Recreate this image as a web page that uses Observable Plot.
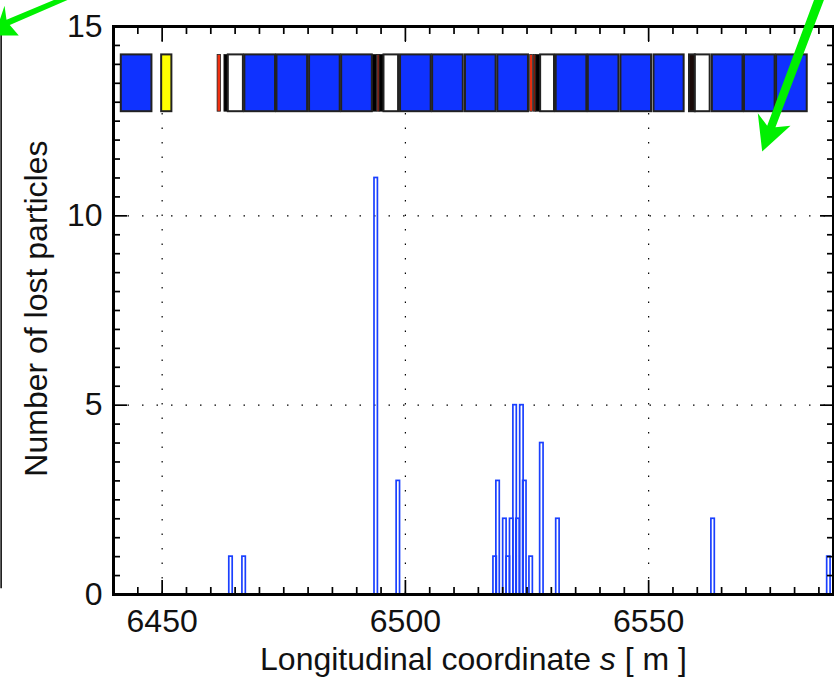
<!DOCTYPE html>
<html>
<head>
<meta charset="utf-8">
<script src="https://cdn.jsdelivr.net/npm/d3@7"></script>
<script src="https://cdn.jsdelivr.net/npm/@observablehq/plot@0.6"></script>
<style>
html,body{margin:0;padding:0;background:#fff;overflow:hidden}
svg{display:block}
</style>
</head>
<body>
<div id="chart"></div>
<script>
const binWidth = 0.7;
const lossStart = [6463.8,6466.5,6493.65,6498.2,6518.1,6518.7,6520.1,6520.8,6521.5,6522.2,6522.8,6523.6,6524.2,6525.5,6527.7,6531,6562.9,6586.7];
const lossCount = [1,1,11,3,1,3,2,1,2,5,2,5,3,1,4,2,2,1];

const magnetStart = [6441.6,6449.9,6461.4,6462.8,6463.6,6467.0,6473.6,6480.3,6486.9,6493.3,6494.3,6494.7,6495.6,6499.0,6505.6,6512.35,6519.0,6525.65,6526.4,6526.9,6527.8,6531.0,6537.6,6544.3,6551.1,6558.4,6559.6,6563.1,6569.7,6576.3];
const magnetEnd   = [6447.9,6452.0,6462.1,6463.6,6466.7,6473.3,6479.9,6486.6,6493.2,6494.2,6494.7,6495.6,6498.6,6505.3,6511.9,6518.65,6525.3,6526.2,6526.9,6527.8,6530.65,6537.3,6543.9,6550.6,6557.3,6559.6,6562.65,6569.4,6576.0,6582.6];
const magnetColor = ["#0f32ff","#ffff00","#f03010","#000000","#ffffff","#0f32ff","#0f32ff","#0f32ff","#0f32ff","#000000","#c82010","#000000","#ffffff","#0f32ff","#0f32ff","#0f32ff","#0f32ff","#f03010","#801808","#000000","#ffffff","#0f32ff","#0f32ff","#0f32ff","#0f32ff","#1a0a08","#ffffff","#0f32ff","#0f32ff","#0f32ff"];
const magnetLow = 12.75, magnetHigh = 14.25;

const xMajor = [6450,6500,6550];
const yMajor = [0,5,10,15];
const xGrid = [6450,6500,6550];
const yGrid = [5,10];
const xMinor = [6445,6455,6460,6465,6470,6475,6480,6485,6490,6495,6505,6510,6515,6520,6525,6530,6535,6540,6545,6555,6560,6565,6570,6575,6580,6585];
const yMinor = [0.5,1,1.5,2,2.5,3,3.5,4,4.5,5.5,6,6.5,7,7.5,8,8.5,9,9.5,10.5,11,11.5,12,12.5,13,13.5,14,14.5];

// green annotation arrows, outlined in axis units
const arrowId = ["a","a","a","a","a","a","a","b","b","b","b","b","b","b"];
const arrowS  = [6431.26,6428.49,6418.01,6417.6,6415.54,6420.53,6418.68,6584.34,6586.39,6576.07,6579.16,6573.34,6572.44,6574.37];
const arrowN  = [15.74,15.74,15.18,15.55,14.76,14.76,15.04,15.82,15.82,12.34,12.38,11.70,12.71,12.38];

const yLabel = "Number of lost particles";
const xLabel = "Longitudinal coordinate s [ m ]";

const font = "'Liberation Sans', Arial, Helvetica, sans-serif";
const magnets = magnetStart.map((s,i)=>({s,e:magnetEnd[i],c:magnetColor[i]}));
const losses = lossStart.map((s,i)=>({s,e:s+binWidth,n:lossCount[i]}));
const arrowPts = arrowS.map((s,i)=>({id:arrowId[i],s,n:arrowN[i]}));

const plot = Plot.plot({
  width:834,height:677,
  marginLeft:113,marginRight:1,marginTop:26,marginBottom:83,
  style:{fontFamily:font,background:"#fff",overflow:"hidden"},
  x:{domain:[6440,6588],axis:null},
  y:{domain:[0,15],axis:null},
  marks:[
    Plot.gridX(xGrid,{stroke:"#000",strokeOpacity:1,strokeWidth:1.2,strokeDasharray:"1.5,13"}),
    Plot.gridY(yGrid,{stroke:"#000",strokeOpacity:1,strokeWidth:1.2,strokeDasharray:"1.5,13"}),
    Plot.rect(magnets,{x1:"s",x2:"e",y1:magnetLow,y2:magnetHigh,fill:d=>d.c,stroke:"#222",strokeWidth:d=>(d.e-d.s<1?0.8:2)}),
    Plot.rect(losses,{x1:"s",x2:"e",y1:0,y2:"n",fill:"none",stroke:"#1a40ff",strokeWidth:1.7}),
    Plot.axisX(xMinor,{anchor:"bottom",tickSize:-7,text:null,label:null,strokeWidth:1.7}),
    Plot.axisX(xMinor,{anchor:"top",tickSize:-7,text:null,label:null,strokeWidth:1.7}),
    Plot.axisY(yMinor,{anchor:"left",tickSize:-7,text:null,label:null,strokeWidth:1.7}),
    Plot.axisY(yMinor,{anchor:"right",tickSize:-7,text:null,label:null,strokeWidth:1.7}),
    Plot.axisX(xMajor,{anchor:"top",tickSize:-14,text:null,label:null,strokeWidth:1.7}),
    Plot.axisY(yMajor,{anchor:"right",tickSize:-14,text:null,label:null,strokeWidth:1.7}),
    Plot.axisX(xMajor,{anchor:"bottom",tickSize:-14,tickPadding:29,label:null,fontSize:32,fill:"#111",strokeWidth:1.7,tickFormat:d=>String(d)}),
    Plot.axisY(yMajor,{anchor:"left",tickSize:-14,tickPadding:25,label:null,fontSize:32,fill:"#111",strokeWidth:1.7,tickFormat:d=>String(d)}),
    Plot.frame({stroke:"#000",strokeWidth:3}),
    Plot.text([yLabel],{x:[6424.2],y:[7.55],rotate:-90,fontSize:32,fill:"#111"}),
    Plot.text([xLabel],{x:[6514],y:[-1.735],fontSize:32,fill:"#111",className:"xlabel"}),
    Plot.ruleX([6416.9],{y1:0.15,y2:15,stroke:"#000",strokeWidth:1.5}),
    Plot.line(arrowPts,{x:"s",y:"n",z:"id",fill:"#00f000",stroke:"none",curve:"linear-closed"})
  ]
});
document.getElementById("chart").append(plot);

// set the variable name in italics, keeping the label as real text
const t = plot.querySelector(".xlabel text");
if (t) {
  t.textContent = "";
  const sel = d3.select(t);
  sel.append("tspan").text("Longitudinal coordinate ");
  sel.append("tspan").attr("font-style","italic").text("s");
  sel.append("tspan").text(" [ m ]");
}
</script>
</body>
</html>
